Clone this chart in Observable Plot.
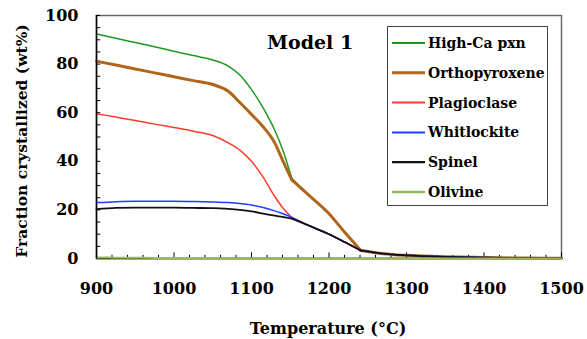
<!DOCTYPE html>
<html>
<head>
<meta charset="utf-8">
<script src="https://cdn.jsdelivr.net/npm/d3@7"></script>
<script src="https://cdn.jsdelivr.net/npm/@observablehq/plot@0.6"></script>
<style>
  html, body { margin: 0; padding: 0; background: #fff; }
</style>
</head>
<body>
<div id="chart"></div>
<script>
const temps      = [900, 925, 950, 975, 1000, 1025, 1050, 1070, 1085, 1100, 1115, 1130, 1140, 1152, 1175, 1198, 1220, 1241, 1270, 1300, 1350, 1400, 1450, 1500];
const highCaPxn  = [92.4, 90.6, 88.9, 87.1, 85.3, 83.5, 81.7, 79.2, 75.5, 69.5, 62.0, 52.8, 45.0, 33.0, 25.8, 19.1, 10.9, 3.3, 2.0, 1.3, 0.7, 0.4, 0.2, 0.1];
const orthopyrox = [81.2, 79.6, 78.0, 76.4, 74.8, 73.2, 71.6, 68.8, 64.2, 59.3, 54.2, 47.6, 40.5, 32.4, 25.8, 19.1, 10.9, 3.3, 2.0, 1.3, 0.7, 0.4, 0.2, 0.1];
const plagioclase= [59.6, 58.2, 56.8, 55.3, 53.9, 52.4, 50.6, 47.6, 44.6, 40.0, 33.5, 25.5, 21.0, 16.9, 13.4, 10.3, 6.8, 3.3, 2.0, 1.3, 0.7, 0.4, 0.2, 0.1];
const whitlockite= [23.0, 23.4, 23.6, 23.6, 23.6, 23.5, 23.3, 23.0, 22.6, 22.0, 21.0, 19.6, 18.5, 16.9, 13.4, 10.3, 6.8, 3.3, 2.0, 1.3, 0.7, 0.4, 0.2, 0.1];
const spinel     = [20.3, 20.8, 20.9, 20.9, 20.9, 20.8, 20.7, 20.4, 20.0, 19.4, 18.5, 17.6, 17.1, 16.4, 13.4, 10.3, 6.8, 3.3, 2.0, 1.3, 0.7, 0.4, 0.2, 0.1];
const olivine    = [0.4, 0.35, 0.3, 0.25, 0.2, 0.2, 0.15, 0.15, 0.1, 0.1, 0.1, 0.1, 0.1, 0.1, 0.05, 0.05, 0.05, 0.05, 0.05, 0.05, 0.05, 0.05, 0.05, 0.05];
// temperatures where the curves have sharp corners (phase boundaries)
const cornerTemps = [1152, 1241];

const seriesNames  = ["High-Ca pxn", "Orthopyroxene", "Plagioclase", "Whitlockite", "Spinel", "Olivine"];
const seriesValues = [highCaPxn, orthopyrox, plagioclase, whitlockite, spinel, olivine];
const seriesColors = ["#1e9a1e", "#b0651b", "#ff3b2b", "#1f3cff", "#111111", "#9bbb59"];
const seriesWidths = [1.5, 3, 1.5, 1.5, 1.8, 2];

const xTickLabels = [900, 1000, 1100, 1200, 1300, 1400, 1500];
const yTickLabels = [0, 20, 40, 60, 80, 100];
const xMinorTicks = d3.range(900, 1501, 20);
const yMinorTicks = d3.range(0, 101, 5);

// split each series into smooth segments joined at the corner temperatures
function segmentRows(values) {
  const rows = [];
  temps.forEach((t, j) => {
    const seg = cornerTemps.filter(c => t > c).length;
    rows.push({T: t, v: values[j], seg});
    if (cornerTemps.includes(t)) rows.push({T: t, v: values[j], seg: seg + 1});
  });
  return rows;
}

const lineMarks = seriesNames.map((name, i) =>
  Plot.line(segmentRows(seriesValues[i]), {
    x: "T", y: "v", z: "seg", stroke: seriesColors[i], strokeWidth: seriesWidths[i],
    curve: "monotone-x", strokeLinejoin: "round", strokeLinecap: "round"
  })
);

const W = 587, H = 339;
const chart = Plot.plot({
  width: W, height: H,
  marginLeft: 96, marginRight: 26, marginTop: 15, marginBottom: 81,
  style: {fontFamily: "DejaVu Serif", fontWeight: "bold", fontSize: "16px", color: "#000", background: "#fff"},
  x: {domain: [900, 1500]},
  y: {domain: [0, 100]},
  marks: [
    Plot.frame({stroke: "#6a6a6a", strokeWidth: 1.5}),
    Plot.ruleY([0], {stroke: "#000", strokeWidth: 1.5}),
    Plot.ruleX(xMinorTicks, {x: d => d, y1: 0, y2: d => d % 100 === 0 ? 2.3 : 1.3, stroke: "#000", strokeWidth: 1}),
    Plot.ruleY(yMinorTicks, {y: d => d, x1: 900, x2: 905.5, stroke: "#000", strokeWidth: 1}),
    ...lineMarks,
    Plot.ruleX([900], {stroke: "#000", strokeWidth: 1.5}),
    Plot.axisX(xTickLabels, {tickSize: 0, tickPadding: 24, tickFormat: d => String(d), label: null, fontSize: 16, fontWeight: "bold"}),
    Plot.axisY(yTickLabels, {tickSize: 0, tickPadding: 18, tickFormat: d => String(d), label: null, fontSize: 16, fontWeight: "bold"})
  ]
});
document.getElementById("chart").appendChild(chart);

const svg = d3.select(chart);
const font = "DejaVu Serif";
// Axis titles
svg.append("text").attr("x", 328).attr("y", 334).attr("text-anchor", "middle")
  .attr("font-family", font).attr("font-weight", "bold").attr("font-size", 16).attr("fill", "#000")
  .text("Temperature (°C)");
svg.append("text").attr("transform", "translate(27,141) rotate(-90)").attr("text-anchor", "middle")
  .attr("font-family", font).attr("font-weight", "bold").attr("font-size", 15.5).attr("fill", "#000")
  .text("Fraction crystallized (wt%)");
// Model title
svg.append("text").attr("x", 267).attr("y", 49).attr("text-anchor", "start")
  .attr("font-family", font).attr("font-weight", "bold").attr("font-size", 19).attr("fill", "#000")
  .text("Model 1");
// Legend
const lg = svg.append("g");
lg.append("rect").attr("x", 387.5).attr("y", 26.5).attr("width", 160).attr("height", 179)
  .attr("fill", "#fff").attr("stroke", "#444").attr("stroke-width", 1);
seriesNames.forEach((name, i) => {
  const cy = 43 + i * 29.8;
  lg.append("line").attr("x1", 392).attr("x2", 425).attr("y1", cy).attr("y2", cy)
    .attr("stroke", seriesColors[i]).attr("stroke-width", Math.min(seriesWidths[i] + 0.5, 3));
  lg.append("text").attr("x", 428).attr("y", cy).attr("dy", "0.35em").attr("text-anchor", "start")
    .attr("font-family", font).attr("font-weight", "bold").attr("font-size", 14).attr("fill", "#000")
    .text(name);
});
</script>
</body>
</html>
